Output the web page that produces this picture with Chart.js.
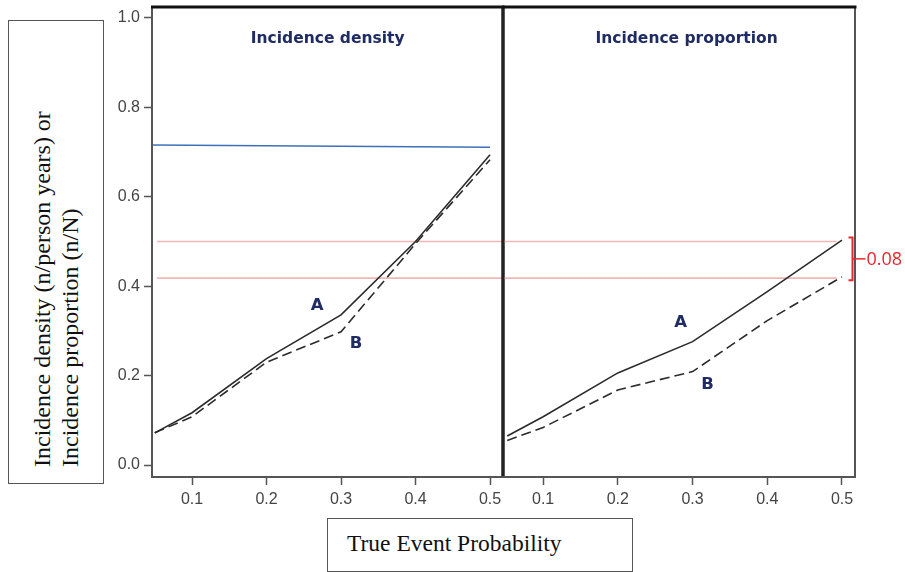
<!DOCTYPE html>
<html>
<head>
<meta charset="utf-8">
<script src="https://cdn.jsdelivr.net/npm/chart.js@4.4.1/dist/chart.umd.min.js"></script>
<style>
  html, body { margin:0; padding:0; background:#fff; }
  body { width:905px; height:572px; position:relative; overflow:hidden; }
  canvas { position:absolute; top:0; }
  #c1 { left:100px; }
  #c2 { left:495px; }
  .box { position:absolute; border:1px solid #555; box-sizing:border-box; background:#fff; }
  #ybox { left:8px; top:20px; width:96px; height:464px; }
  #xbox { left:327px; top:518px; width:306px; height:54px; }
  .serif { font-family:"Liberation Serif","Times New Roman",serif; color:#111; white-space:nowrap; }
  #ytitle { position:absolute; left:28px; top:467px; transform-origin:left top; transform:rotate(-90deg);
            font-size:24px; line-height:28px; }
  #xtitle { position:absolute; left:347px; top:529px; font-size:23.5px; line-height:28px; }
</style>
</head>
<body>
<div class="box" id="ybox"></div>
<div class="serif" id="ytitle">Incidence density (n/person years) or<br>Incidence proportion (n/N)</div>
<div class="box" id="xbox"></div>
<div class="serif" id="xtitle">True Event Probability</div>
<canvas id="c1" width="405" height="510"></canvas>
<canvas id="c2" width="410" height="510"></canvas>
<script>
// ---- data ----
const xTicks = [0.1, 0.2, 0.3, 0.4, 0.5];
const yTicks = [0.0, 0.2, 0.4, 0.6, 0.8, 1.0];

const densityX = [0.05, 0.1, 0.2, 0.3, 0.4, 0.5];
const densityA = [0.072, 0.117, 0.238, 0.336, 0.500, 0.694];
const densityB = [0.072, 0.108, 0.230, 0.298, 0.495, 0.683];

const blueX = [0.046, 0.5];
const blueY = [0.716, 0.711];

const proportionX = [0.052, 0.1, 0.2, 0.3, 0.4, 0.5];
const proportionA = [0.065, 0.108, 0.206, 0.276, 0.388, 0.503];
const proportionB = [0.055, 0.084, 0.168, 0.209, 0.323, 0.421];

const refLevels = [0.50, 0.418];
const panelTitles = ['Incidence density', 'Incidence proportion'];
const seriesNames = ['A', 'B'];
const gapLabel = '0.08';

// ---- helpers ----
const X_MIN = 0.0463, X_MAX = 0.5174;
const Y_MIN = -0.0268, Y_MAX = 1.0246;
const NAVY = '#1f2b63';
const tickFont = { family: '"Liberation Sans", Arial, sans-serif', size: 16 };

function pts(xs, ys) { return xs.map((x, i) => ({ x: x, y: ys[i] })); }

function lineDs(data, color, width, dash) {
  return { data: data, borderColor: color, borderWidth: width, borderDash: dash || [],
           pointRadius: 0, tension: 0, fill: false };
}

function xScale() {
  return {
    type: 'linear', min: X_MIN, max: X_MAX,
    afterBuildTicks: s => { s.ticks = xTicks.map(v => ({ value: v })); },
    afterFit: s => { s.height = 33; s.paddingLeft = 0; s.paddingRight = 0; },
    ticks: { callback: v => Number(v).toFixed(1), font: tickFont, color: '#444', padding: 5,
             maxRotation: 0, autoSkip: false },
    grid: { display: true, drawOnChartArea: false, drawTicks: true, tickLength: 8,
            tickColor: '#555', tickWidth: 1.5 },
    border: { display: false }
  };
}

function yScale(show) {
  return {
    type: 'linear', min: Y_MIN, max: Y_MAX, display: show,
    afterBuildTicks: s => { s.ticks = yTicks.map(v => ({ value: v })); },
    afterFit: s => { if (show) { s.width = 52; } s.paddingTop = 0; s.paddingBottom = 0; },
    ticks: { callback: v => Number(v).toFixed(1), font: tickFont, color: '#444', padding: 4 },
    grid: { display: true, drawOnChartArea: false, drawTicks: true, tickLength: 8,
            tickColor: '#555', tickWidth: 1.5 },
    border: { display: false }
  };
}

function line(ctx, x1, y1, x2, y2, color, w) {
  ctx.save(); ctx.beginPath(); ctx.strokeStyle = color; ctx.lineWidth = w;
  ctx.moveTo(x1, y1); ctx.lineTo(x2, y2); ctx.stroke(); ctx.restore();
}

const overlay = {
  id: 'overlay',
  beforeDatasetsDraw(chart, args, o) {
    const ctx = chart.ctx, xs = chart.scales.x, ys = chart.scales.y;
    ctx.save();
    ctx.beginPath();
    ctx.rect(chart.chartArea.left, chart.chartArea.top, chart.chartArea.width, chart.chartArea.height);
    ctx.clip();
    refLevels.forEach(v => {
      const y = ys.getPixelForValue(v);
      line(ctx, xs.getPixelForValue(o.refFrom), y, xs.getPixelForValue(o.refTo), y, '#f2b6b6', 1.6);
    });
    ctx.restore();
  },
  afterDraw(chart, args, o) {
    const ctx = chart.ctx, ca = chart.chartArea, xs = chart.scales.x, ys = chart.scales.y;
    // frame
    line(ctx, ca.left, ca.top, ca.left, ca.bottom, o.leftColor, o.leftW);
    line(ctx, ca.right, ca.top, ca.right, ca.bottom, o.rightColor, o.rightW);
    line(ctx, ca.left - 1, ca.bottom, ca.right + 1, ca.bottom, '#555', 2);
    line(ctx, ca.left - 1, ca.top, ca.right + 1.5, ca.top, '#111', 3);
    // title
    ctx.save();
    ctx.fillStyle = NAVY;
    ctx.font = 'bold 15.5px "DejaVu Sans", Verdana, sans-serif';
    ctx.textAlign = 'center'; ctx.textBaseline = 'alphabetic';
    ctx.fillText(o.title, xs.getPixelForValue(o.titleX), ys.getPixelForValue(0.944));
    // series labels
    ctx.font = 'bold 16.5px "DejaVu Sans", Verdana, sans-serif';
    ctx.textBaseline = 'middle';
    o.labels.forEach((p, i) => {
      ctx.fillText(seriesNames[i], xs.getPixelForValue(p[0]), ys.getPixelForValue(p[1]));
    });
    ctx.restore();
    // bracket
    if (o.bracket) {
      const yt = ys.getPixelForValue(refLevels[0]) - 4;
      const yb = ys.getPixelForValue(refLevels[1]) + 2;
      const bx = ca.right - 2.5;
      const red = '#e8262b';
      ctx.save();
      ctx.strokeStyle = red; ctx.lineWidth = 2;
      ctx.beginPath();
      ctx.moveTo(bx - 4, yt); ctx.lineTo(bx, yt); ctx.lineTo(bx, yb); ctx.lineTo(bx - 4, yb);
      ctx.stroke();
      const ym = (yt + yb) / 2;
      line(ctx, bx, ym, bx + 13, ym, red, 1.5);
      ctx.fillStyle = red;
      ctx.font = '18px "Open Sans", sans-serif';
      ctx.textAlign = 'left'; ctx.textBaseline = 'middle';
      ctx.fillText(gapLabel, bx + 14, ym + 1);
      ctx.restore();
    }
  }
};

function makeChart(id, datasets, showY, padding, o) {
  return new Chart(document.getElementById(id), {
    type: 'line',
    data: { datasets: datasets },
    options: {
      responsive: false, animation: false, devicePixelRatio: 1,
      layout: { padding: padding },
      scales: { x: xScale(), y: yScale(showY) },
      plugins: { legend: { display: false }, tooltip: { enabled: false }, overlay: o }
    },
    plugins: [overlay]
  });
}

makeChart('c1', [
  lineDs(pts(blueX, blueY), '#3d70b8', 1.6),
  lineDs(pts(densityX, densityA), '#2b2b2b', 1.6),
  lineDs(pts(densityX, densityB), '#2b2b2b', 1.6, [10, 5])
], true, { top: 7, right: 2, left: 0, bottom: 0 }, {
  title: panelTitles[0], titleX: 0.282,
  labels: [[0.268, 0.356], [0.320, 0.271]],
  refFrom: 0.053, refTo: 0.6,
  leftColor: '#555', leftW: 2, rightColor: '#222', rightW: 3, bracket: false
});

makeChart('c2', [
  lineDs(pts(proportionX, proportionA), '#2b2b2b', 1.6),
  lineDs(pts(proportionX, proportionB), '#2b2b2b', 1.6, [10, 5])
], false, { top: 7, right: 50, left: 8, bottom: 0 }, {
  title: panelTitles[1], titleX: 0.292,
  labels: [[0.284, 0.318], [0.320, 0.180]],
  refFrom: 0.0, refTo: 0.493,
  leftColor: '#222', leftW: 3, rightColor: '#555', rightW: 2, bracket: true
});
</script>
</body>
</html>
